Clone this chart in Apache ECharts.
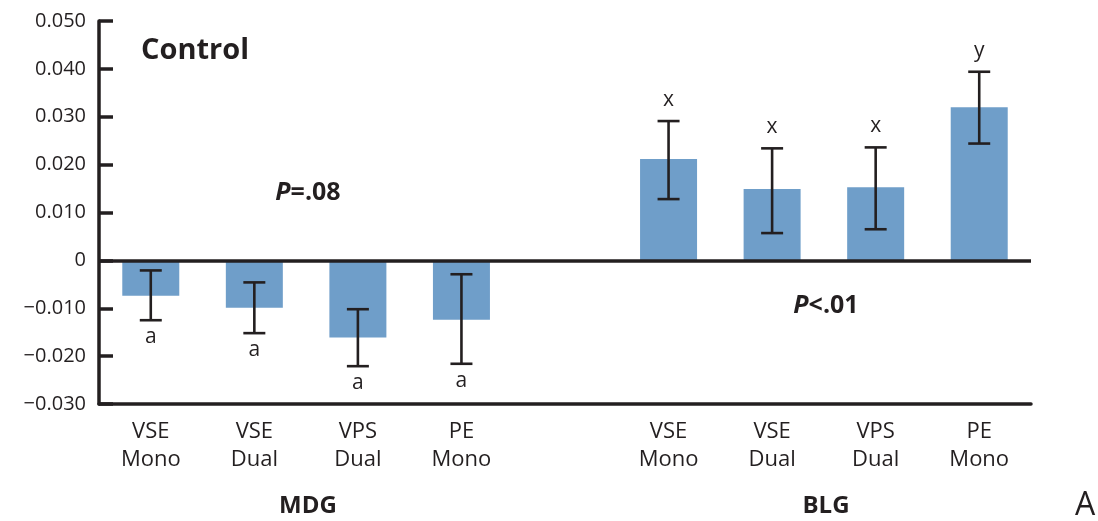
<!DOCTYPE html>
<html>
<head>
<meta charset="utf-8">
<script src="https://cdn.jsdelivr.net/npm/echarts@6/dist/echarts.min.js"></script>
<style>
html,body{margin:0;padding:0;background:#fff;}
#c{width:1098px;height:521px;}
</style>
</head>
<body>
<div id="c"></div>
<script>
const categories = ['VSE\nMono','VSE\nDual','VPS\nDual','PE\nMono','','VSE\nMono','VSE\nDual','VPS\nDual','PE\nMono'];
const means   = [-0.0074,-0.0099,-0.0161,-0.0124,null,0.0212,0.0149,0.0153,0.0320];
const errLow  = [-0.0125,-0.0152,-0.0221,-0.0216,null,0.0128,0.0057,0.0065,0.0244];
const errHigh = [-0.0021,-0.0046,-0.0102,-0.0029,null,0.0291,0.0234,0.0236,0.0394];
const letters = ['a','a','a','a','','x','x','x','y'];
const groups = ['MDG','BLG'];
const yMin = -0.03, yMax = 0.05, yStep = 0.01;

const INK = '#231f20';
const FONT = '"Open Sans", "Noto Sans", sans-serif';

const errData = [];
means.forEach((m,i)=>{ if(m!==null) errData.push([i, errLow[i], errHigh[i], m]); });

const chart = echarts.init(document.getElementById('c'), null, {renderer:'canvas'});
chart.setOption({
  animation:false,
  backgroundColor:'#fff',
  grid:{left:99, right:67, top:21, bottom:117},
  xAxis:{
    type:'category', data:categories,
    axisLine:{onZero:false, lineStyle:{color:INK, width:3.5}},
    axisTick:{show:false},
    axisLabel:{color:INK, fontFamily:FONT, fontSize:22, lineHeight:28, margin:14, interval:0}
  },
  yAxis:{
    type:'value', min:yMin, max:yMax, interval:yStep,
    splitLine:{show:false},
    axisLine:{show:true, lineStyle:{color:INK, width:3.5}},
    axisTick:{show:true, inside:true, length:14, lineStyle:{color:INK, width:3.5}},
    axisLabel:{color:INK, fontFamily:FONT, fontSize:20, margin:13,
      formatter:v=>{ if(Math.abs(v)<1e-9) return '0'; return (v<0?'\u2212':'')+Math.abs(v).toFixed(3); }}
  },
  series:[
    {
      type:'bar', data:means.map(v=>v===null?'-':v), barWidth:57,
      itemStyle:{color:'#6f9ec9'},
      markLine:{silent:true, symbol:'none', label:{show:false},
        lineStyle:{color:INK, width:3.5, type:'solid'}, data:[{yAxis:0}]}
    },
    {
      type:'custom', data:errData, z:10,
      renderItem:(params, api)=>{
        const i = api.value(0);
        const lo = api.coord([i, api.value(1)]);
        const hi = api.coord([i, api.value(2)]);
        const m = api.value(3);
        const x = lo[0];
        const cap = 11;
        const st = {stroke:INK, lineWidth:2.6};
        const letter = letters[i];
        const ly = m < 0 ? lo[1] + 17 : hi[1] - 21;
        return {type:'group', children:[
          {type:'line', shape:{x1:x, y1:lo[1], x2:x, y2:hi[1]}, style:st},
          {type:'line', shape:{x1:x-cap, y1:lo[1], x2:x+cap, y2:lo[1]}, style:st},
          {type:'line', shape:{x1:x-cap, y1:hi[1], x2:x+cap, y2:hi[1]}, style:st},
          {type:'text', style:{text:letter, x:x, y:ly, textAlign:'center', textVerticalAlign:'middle',
            fill:INK, font:'21px '+FONT}}
        ]};
      }
    }
  ],
  graphic:[
    {type:'text', left:141, top:36, style:{text:'Control', fill:INK, font:'bold 29px '+FONT}},
    {type:'text', x:308, y:193, style:{text:'{i|P}=.08', textAlign:'center', textVerticalAlign:'middle', fill:INK, font:'bold 25px '+FONT,
      rich:{i:{fontStyle:'italic', fontWeight:'bold', fontSize:25, fontFamily:FONT, fill:INK}}}},
    {type:'text', x:826, y:306, style:{text:'{i|P}<.01', textAlign:'center', textVerticalAlign:'middle', fill:INK, font:'bold 25px '+FONT,
      rich:{i:{fontStyle:'italic', fontWeight:'bold', fontSize:25, fontFamily:FONT, fill:INK}}}},
    {type:'text', x:308, y:506, style:{text:groups[0], textAlign:'center', textVerticalAlign:'middle', fill:INK, font:'bold 24px '+FONT}},
    {type:'text', x:826, y:506, style:{text:groups[1], textAlign:'center', textVerticalAlign:'middle', fill:INK, font:'bold 24px '+FONT}},
    {type:'text', x:1085, y:506, style:{text:'A', textAlign:'center', textVerticalAlign:'middle', fill:INK, font:'32px '+FONT}}
  ]
});
</script>
</body>
</html>
